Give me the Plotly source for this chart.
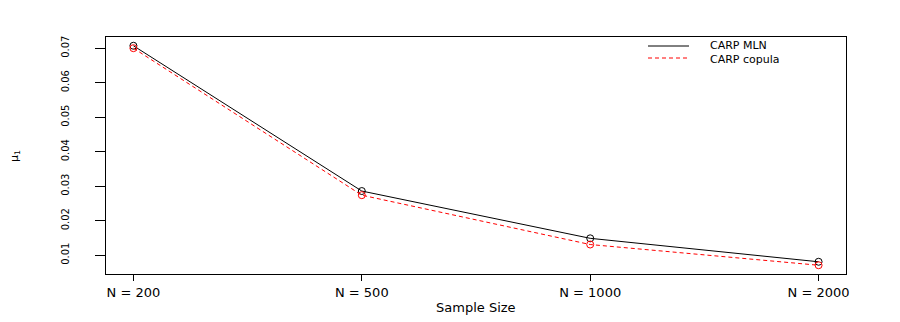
import plotly.graph_objects as go

# ---- data ----
sample_sizes = ["N = 200", "N = 500", "N = 1000", "N = 2000"]
carp_mln = [0.0707, 0.0286, 0.0149, 0.0081]
carp_copula = [0.0700, 0.0274, 0.0131, 0.0071]
y_ticks = [0.01, 0.02, 0.03, 0.04, 0.05, 0.06, 0.07]
y_tick_labels = ["0.01", "0.02", "0.03", "0.04", "0.05", "0.06", "0.07"]
series_names = ["CARP MLN", "CARP copula"]

FONT = "DejaVu Sans"
L, R, T, B = 106, 54, 37, 48
W, H = 900, 322
pw, ph = W - L - R, H - T - B

fig = go.Figure()
fig.add_trace(go.Scatter(
    x=sample_sizes, y=carp_mln, mode="lines+markers", name=series_names[0],
    line=dict(color="black", width=1),
    marker=dict(symbol="circle-open", size=7, color="black", line=dict(width=1)),
    showlegend=False))
fig.add_trace(go.Scatter(
    x=sample_sizes, y=carp_copula, mode="lines+markers", name=series_names[1],
    line=dict(color="red", width=1, dash="4px,3px"),
    marker=dict(symbol="circle-open", size=7, color="red", line=dict(width=1)),
    showlegend=False))


def px_x(p):
    return (p - L) / pw


def px_y(p):
    return 1 - (p - T) / ph


# manual R-style legend (no box)
shapes = [
    dict(type="line", xref="paper", yref="paper",
         x0=px_x(648), x1=px_x(689), y0=px_y(46), y1=px_y(46),
         line=dict(color="black", width=1)),
    dict(type="line", xref="paper", yref="paper",
         x0=px_x(648), x1=px_x(689), y0=px_y(58), y1=px_y(58),
         line=dict(color="red", width=1, dash="4px,3px")),
]
annotations = [
    dict(xref="paper", yref="paper", x=px_x(708), y=px_y(52),
         text="<br>".join(series_names), showarrow=False, xanchor="left",
         yanchor="middle", align="left",
         font=dict(family=FONT, size=11, color="black")),
    dict(xref="paper", yref="paper", x=0.5, y=px_y(307),
         text="Sample Size", showarrow=False, xanchor="center", yanchor="middle",
         font=dict(family=FONT, size=13, color="black")),
    dict(xref="paper", yref="paper", x=px_x(15), y=px_y(156),
         text="μ<sub>1</sub>", showarrow=False, textangle=-90,
         xanchor="center", yanchor="middle",
         font=dict(family=FONT, size=11, color="black")),
]

fig.update_layout(
    width=W, height=H,
    margin=dict(l=L, r=R, t=T, b=B),
    paper_bgcolor="white", plot_bgcolor="white",
    font=dict(family=FONT, color="black"),
    shapes=shapes, annotations=annotations,
    showlegend=False,
    xaxis=dict(type="category", range=[-0.12, 3.12], showgrid=False, zeroline=False,
               showline=True, linecolor="black", linewidth=1, mirror=True,
               ticks="outside", ticklen=6, tickcolor="black",
               tickfont=dict(family=FONT, size=13, color="black")),
    yaxis=dict(range=[0.00456, 0.07324], showgrid=False, zeroline=False,
               showline=True, linecolor="black", linewidth=1, mirror=True,
               tickvals=y_ticks, ticktext=y_tick_labels,
               ticks="outside", ticklen=10, tickcolor="black", tickangle=-90,
               ticklabelstandoff=22,
               tickfont=dict(family=FONT, size=10, color="black")),
)

fig.write_html("out.html",
               config={"displayModeBar": False},
               post_script="document.body.style.margin='0';document.body.style.overflow='hidden';")
